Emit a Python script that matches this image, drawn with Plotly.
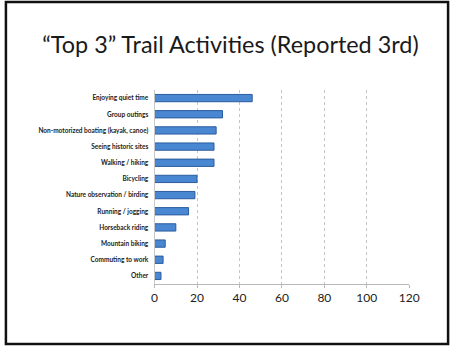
import plotly.graph_objects as go

# Activities reported as third choice, top to bottom
activities = [
    "Enjoying quiet time",
    "Group outings",
    "Non-motorized boating (kayak, canoe)",
    "Seeing historic sites",
    "Walking / hiking",
    "Bicycling",
    "Nature observation / birding",
    "Running / jogging",
    "Horseback riding",
    "Mountain biking",
    "Commuting to work",
    "Other",
]
counts = [46, 32, 29, 28, 28, 20, 19, 16, 10, 5, 4, 3]
x_ticks = [0, 20, 40, 60, 80, 100, 120]

W, H = 461, 347

fig = go.Figure(
    go.Bar(
        x=counts,
        y=activities,
        orientation="h",
        width=0.45,
        marker=dict(color="#4a87d2", line=dict(color="#2b5c9e", width=1)),
    )
)

fig.update_layout(
    width=W,
    height=H,
    margin=dict(l=0, r=0, t=0, b=0),
    paper_bgcolor="white",
    plot_bgcolor="white",
    showlegend=False,
    title=dict(
        text="“Top 3” Trail Activities (Reported 3rd)",
        x=0.5,
        xanchor="center",
        y=1 - 45 / H,
        yanchor="middle",
        font=dict(family="Lato, Open Sans, sans-serif", size=23.4, color="#1a1a1a"),
    ),
    xaxis=dict(
        domain=[156 / W, 418 / W],
        range=[0, 120],
        tickvals=x_ticks,
        showgrid=True,
        gridcolor="#c4c4c4",
        griddash="dot",
        gridwidth=1,
        zeroline=False,
        showline=True,
        linecolor="#b8b8b8",
        ticks="outside",
        ticklen=3,
        tickcolor="#b8b8b8",
        tickfont=dict(family="Lato, Open Sans, sans-serif", size=12, color="#222"),
        fixedrange=True,
    ),
    yaxis=dict(
        domain=[(H - 284) / H, (H - 90) / H],
        autorange="reversed",
        showgrid=False,
        showline=True,
        linecolor="#c8c8c8",
        ticks="",
        ticklabelstandoff=4,
        tickfont=dict(family="Lato, Open Sans, sans-serif", size=6.5, color="#222", weight="bold"),
        fixedrange=True,
    ),
    shapes=[
        dict(
            type="rect",
            xref="paper",
            yref="paper",
            x0=3 / W,
            x1=1 - 3 / W,
            y0=3 / H,
            y1=1 - 2 / H,
            line=dict(color="#111", width=2.5),
            fillcolor="rgba(0,0,0,0)",
        )
    ],
)

fig.write_html(
    "out.html",
    config={"displayModeBar": False},
    post_script="document.body.style.margin='0';document.body.style.overflow='hidden';",
)
